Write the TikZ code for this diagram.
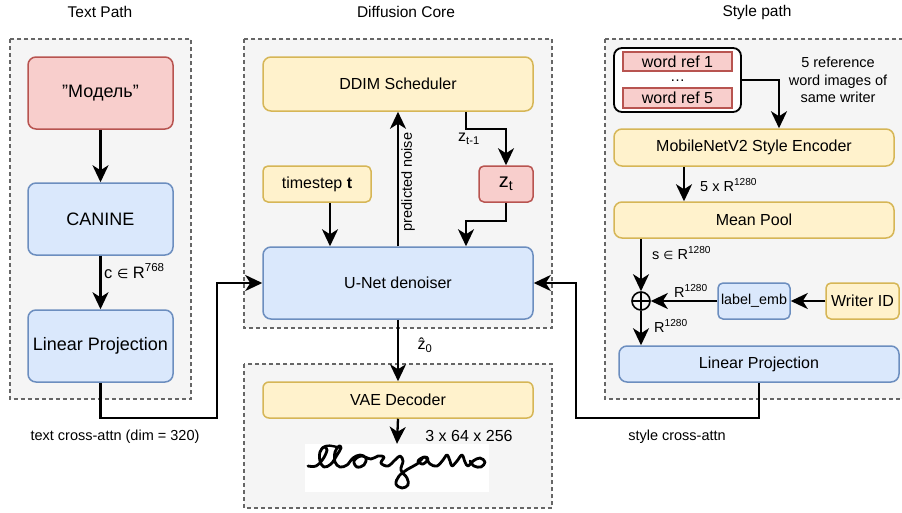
\documentclass[tikz,border=0pt]{standalone}
\usepackage{fontspec}
\setmainfont{Liberation Sans}
\newfontfamily\dejavu{DejaVu Sans}
\usepackage{tikz}
\usetikzlibrary{arrows.meta}
\definecolor{blueF}{HTML}{DAE8FC}
\definecolor{blueD}{HTML}{6C8EBF}
\definecolor{redF}{HTML}{F8CECC}
\definecolor{redD}{HTML}{B85450}
\definecolor{yelF}{HTML}{FFF2CC}
\definecolor{yelD}{HTML}{D6B656}
\definecolor{grpF}{HTML}{F5F5F5}
\definecolor{grpD}{HTML}{666666}
\tikzset{
  box/.style={draw, rounded corners=8pt, line width=1.5pt, align=center, inner sep=2pt,
    font=\fontsize{16}{19}\selectfont},
  bluebox/.style={box, fill=blueF, draw=blueD},
  redbox/.style={box, fill=redF, draw=redD},
  yelbox/.style={box, fill=yelF, draw=yelD},
  grp/.style={draw=grpD, fill=grpF, dash pattern=on 4pt off 3pt, line width=1.3pt},
  arr/.style={-{Stealth[length=17pt,width=16pt,inset=5pt]}, line width=2.3pt},
  lbl/.style={font=\fontsize{14.5}{17.5}\selectfont, inner sep=1pt},
  ttl/.style={font=\fontsize{15.5}{18}\selectfont}
}
\begin{document}
\begin{tikzpicture}[x=1pt,y=-1pt]
    \useasboundingbox (0,0) rectangle (902,512);
    % groups
    \draw[grp] (10,39) rectangle (191,399);
    \draw[grp] (244,39) rectangle (552,328);
    \draw[grp] (244,364) rectangle (552,508);
    \draw[grp] (605,39) rectangle (912,399);
    \node[ttl] (ttext) at (100,12) {Text Path};
    \node[ttl] (tcore) at (406,12) {Diffusion Core};
    \node[ttl] (tstyle) at (757,12) {Style path};

    % text path
    \node[redbox, minimum width=145, minimum height=72, font=\fontsize{18}{21}\selectfont] (word) at (100.5,93) {"Модель"};
    \node[bluebox, minimum width=145, minimum height=72, font=\fontsize{18}{21}\selectfont] (canine) at (100.5,219) {CANINE};
    \node[bluebox, minimum width=145, minimum height=72, font=\fontsize{18}{21}\selectfont] (tproj) at (100.5,346) {Linear Projection};
    \draw[arr] (word) -- (canine);
    \draw[arr] (canine) -- (tproj);
    \node[lbl, anchor=west, font=\fontsize{16.5}{19}\selectfont] (lblc) at (103,271) {c {\dejavu\fontsize{13}{15}\selectfont ∈} R\textsuperscript{768}};

    % diffusion core
    \node[yelbox, minimum width=270, minimum height=54] (ddim) at (398,84) {DDIM Scheduler};
    \node[yelbox, rounded corners=5pt, minimum width=108, minimum height=36] (tstep) at (317,184) {timestep \textbf{t}};
    \node[redbox, rounded corners=5pt, minimum width=54, minimum height=36, font=\fontsize{20}{22}\selectfont] (zt) at (506,184) {z\textsubscript{t}};
    \node[bluebox, minimum width=270, minimum height=72] (unet) at (398,283) {U-Net denoiser};
    \draw[arr] ([xshift=13]tstep.south) -- ([xshift=13]tstep.south |- unet.north);
    \draw[arr] (unet.north) -- (ddim.south);
    \node[lbl, rotate=90] (lblnoise) at (408,182) {predicted noise};
    \draw[arr] ([xshift=68]ddim.south) -- ++(0,17) -| (zt.north);
    \node[lbl, font=\fontsize{16}{18}\selectfont] (lblzt) at (469,139) {z\textsubscript{t-1}};
    \draw[arr] (zt.south) -- ++(0,18) -| ([xshift=68]unet.north);

    % decoder
    \node[yelbox, rounded corners=6pt, minimum width=270, minimum height=36] (vae) at (398,400) {VAE Decoder};
    \draw[arr] (unet.south) -- (vae.north);
    \node[lbl, font=\fontsize{16}{18}\selectfont] (lblz0) at (425,345) {\^{z}\textsubscript{0}};
    \node[fill=white, minimum width=184, minimum height=48, inner sep=0] (img) at (397,468) {};
    \draw[arr] (vae.south) -- (img.north);
    \node[lbl, font=\fontsize{16}{18}\selectfont] (lblshape) at (469,436) {3 x 64 x 256};
    \draw[line width=2.8pt, line cap=round, line join=round] plot[smooth, tension=0.6] coordinates {
      (308,466) (316,466) (323,459) (327,450) (324,447) (320,452) (320,461) (324,467)
      (331,464) (337,455) (341,448) (339,446) (335,452) (335,462) (340,467) (347,465)
      (353,458) (360,455) (366,458) (364,465) (357,467) (354,461) (361,456) (371,459)
      (378,456) (384,457) (381,463) (388,466) (395,460) (400,456) (403,461) (401,470)
      (407,478) (408,485) (402,488) (396,484) (399,476) (408,469) (417,464) (424,457)
      (428,459) (423,464) (418,461) (425,457) (430,464) (437,466) (443,460) (447,455)
      (450,461) (452,466) (457,461) (462,455) (465,462) (468,466) (473,461) (480,458)
      (485,462) (481,467) (474,466) (470,461)};
    \draw[line width=2.4pt, line cap=round] (322,448) .. controls (327,444) and (332,446) .. (337,447);

    % style path
    \node[draw, fill=white, rounded corners=8pt, line width=1.8pt, minimum width=127, minimum height=64] (refs) at (677.5,80) {};
    \node[redbox, rounded corners=0pt, minimum width=109, minimum height=19, inner sep=0] (ref1) at (677.5,61.5) {word ref 1};
    \node[redbox, rounded corners=0pt, minimum width=109, minimum height=20, inner sep=0] (ref5) at (677.5,98) {word ref 5};
    \node[inner sep=0, text height=3pt, text depth=0pt, font=\fontsize{15}{15}\selectfont] (dots) at (677.5,80) {\dots};
    \node[lbl, align=center] (lblrefs) at (838,80) {5 reference\\word images of\\same writer};
    \node[yelbox, minimum width=280, minimum height=37] (mnet) at (754,147.5) {MobileNetV2 Style Encoder};
    \node[yelbox, minimum width=280, minimum height=36] (mpool) at (754,220) {Mean Pool};
    \draw[arr] (refs.east) -| ([xshift=25]mnet.north);
    \draw[arr] ([xshift=-70]mnet.south) -- ([xshift=-70]mpool.north);
    \node[lbl, anchor=west] (lbl5x) at (699,185) {5 x R\textsuperscript{1280}};
    \node[draw, circle, line width=1.6pt, minimum size=18, inner sep=0,
      path picture={\draw[line width=1.6pt] (path picture bounding box.north) -- (path picture bounding box.south)
        (path picture bounding box.west) -- (path picture bounding box.east);}] (plus) at (641,301) {};
    \node[bluebox, rounded corners=5pt, minimum width=72, minimum height=36, font=\fontsize{14.3}{17}\selectfont] (lemb) at (754,301) {label\_emb};
    \node[yelbox, rounded corners=5pt, minimum width=73, minimum height=36] (wid) at (862.5,301) {Writer ID};
    \node[bluebox, minimum width=280, minimum height=36] (sproj) at (759,364) {Linear Projection};
    \draw[arr] (plus |- mpool.south) -- (plus.north);
    \node[lbl, anchor=west] (lbls) at (651,253) {s {\dejavu\fontsize{11.5}{14}\selectfont ∈} R\textsuperscript{1280}};
    \draw[arr] (wid.west) -- (lemb.east);
    \draw[arr] (lemb.west) -- (plus.east);
    \node[lbl] (lblemb) at (691,291) {R\textsuperscript{1280}};
    \draw[arr] (plus.south) -- (plus |- sproj.north);
    \node[lbl, anchor=west] (lblsum) at (653,326) {R\textsuperscript{1280}};

    % cross attention
    \coordinate (tbend) at (217,418);
    \coordinate (sbend) at (576,418);
    \draw[arr] (tproj.south) |- (tbend) |- (unet.west);
    \draw[arr] (sproj.south) |- (sbend) |- (unet.east);
    \node[lbl] (lbltxt) at (115,437) {text cross-attn (dim = 320)};
    \node[lbl] (lblsty) at (677,437) {style cross-attn};
\end{tikzpicture}
\end{document}
